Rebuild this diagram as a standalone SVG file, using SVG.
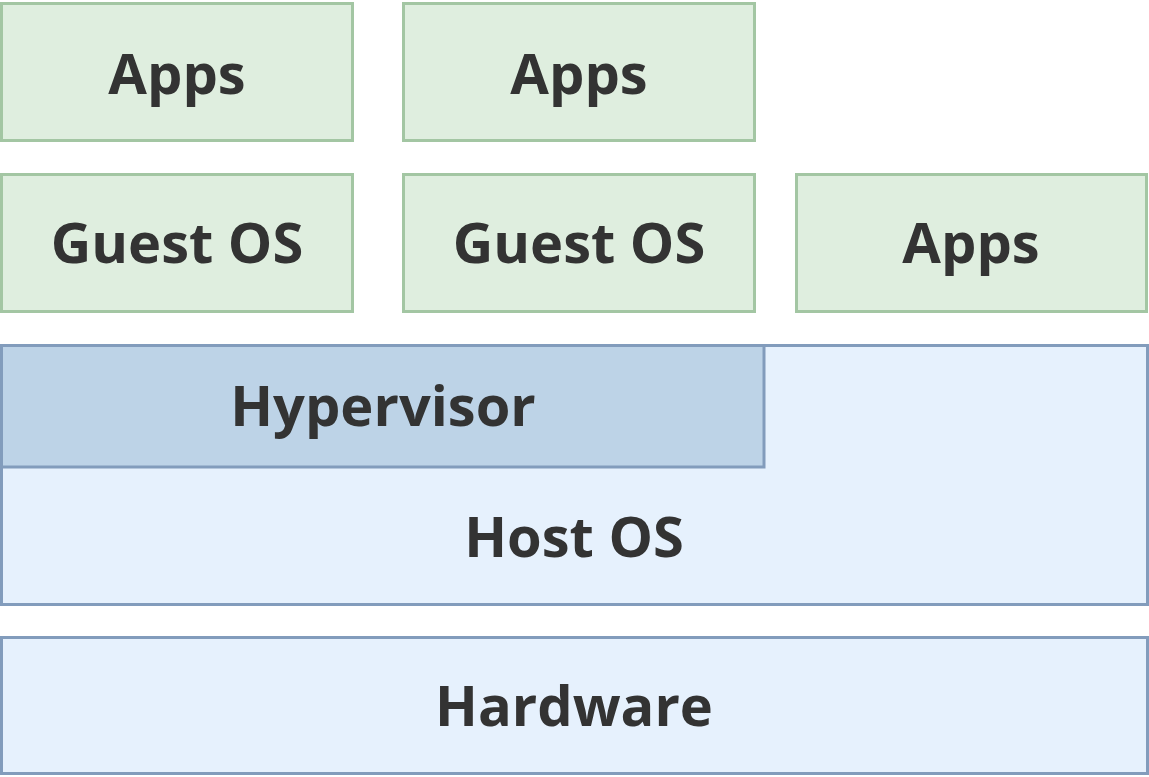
<svg xmlns="http://www.w3.org/2000/svg" width="1149" height="777" viewBox="0 0 1149 777">
<style>
.g{fill:#dfeedf;stroke:#a3c6a3;stroke-width:3}
.b{fill:#e6f1fd;stroke:#829cbc;stroke-width:3}
.h{fill:#bdd3e7;stroke:#829cbc;stroke-width:3}
text{font-family:"Open Sans","Noto Sans",sans-serif;font-weight:bold;font-size:56px;fill:#333;text-anchor:middle}
</style>
<rect width="1149" height="777" fill="#fff"/>
<g id="host"><rect class="b" x="1.5" y="345.5" width="1146" height="259"/><text x="574" y="557">Host OS</text></g>
<g id="hypervisor"><rect class="h" x="1.5" y="345.5" width="762.5" height="121.5"/><text x="383" y="426">Hypervisor</text></g>
<g id="hardware"><rect class="b" x="1.5" y="637.5" width="1146" height="136"/><text x="574" y="726">Hardware</text></g>
<g id="apps1"><rect class="g" x="1.5" y="3.5" width="351" height="137"/><text x="177" y="94">Apps</text></g>
<g id="apps2"><rect class="g" x="403.5" y="3.5" width="351" height="137"/><text x="579" y="94">Apps</text></g>
<g id="guest1"><rect class="g" x="1.5" y="174.5" width="351" height="137"/><text x="177" y="263">Guest OS</text></g>
<g id="guest2"><rect class="g" x="403.5" y="174.5" width="351" height="137"/><text x="579" y="263">Guest OS</text></g>
<g id="apps3"><rect class="g" x="796.5" y="174.5" width="350" height="137"/><text x="971" y="263">Apps</text></g>
<g id="connectors"/>
</svg>
